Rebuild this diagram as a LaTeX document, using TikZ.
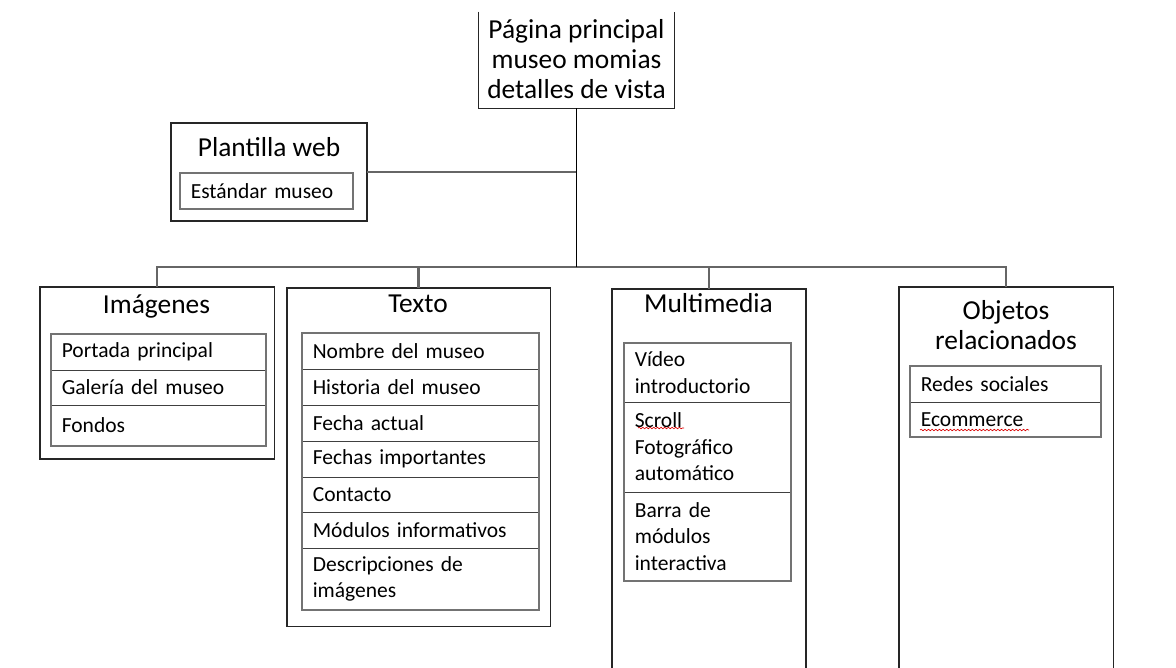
\documentclass[tikz,border=0pt]{standalone}
\usepackage{fontspec}
\setmainfont{Carlito}
\usetikzlibrary{positioning,decorations.pathmorphing}
\tikzset{outline/.style={draw=black!85,line width=0.8pt},
	box/.style={outline,inner sep=0pt,outer sep=0pt,anchor=north west},
	head/.style={font=\fontsize{19.5pt}{21.6pt}\selectfont,align=center,inner sep=0pt},
	item/.style={draw=black!75,line width=0.6pt,inner xsep=0.27cm,inner ysep=0pt,outer sep=0pt,
		align=left,text width=#1,font=\fontsize{15.3pt}{18.8pt}\selectfont},
	frame/.style={draw=black!55,line width=1.3pt},
	link/.style={draw=black!60,line width=1.5pt},
	trunk/.style={draw=black,line width=1.4pt},
	wavy/.style={draw=red!85!black,line width=0.45pt,decorate,
		decoration={snake,amplitude=0.55pt,segment length=2.6pt}},
}
\begin{document}
\begin{tikzpicture}[x=0.025cm,y=-0.025cm]
	\useasboundingbox (0,0) rectangle (1176,668);
	\clip (0,0) rectangle (1176,668);
	
	% main page
	\node[minimum width=4.875cm,minimum height=2.4cm,inner sep=0pt] (home) at (576.5,60) {};
	\draw[outline] (home.north west) -- (home.south west) -- (home.south east) -- (home.north east);
	\node[head,below=0.18cm of home.north] (homet) {Página principal\\museo momias\\detalles de vista};
	
	% template
	\node[box,minimum width=4.9cm,minimum height=2.45cm] (tpl) at (171,123) {};
	\node[head,anchor=base] (tplh) at (269,157) {Plantilla web};
	\node[item=3.785cm,anchor=north west,minimum height=0.9cm] (tpl1) at (180,173) {Estándar museo};
	\draw[frame] (tpl1.north west) rectangle (tpl1.south east);
	
	% columns
	\node[box,minimum width=5.85cm,minimum height=4.3cm] (img) at (40,287) {};
	\node[box,minimum width=6.575cm,minimum height=8.45cm] (txt) at (287,288) {};
	\node[box,minimum width=4.85cm,minimum height=10cm] (mm) at (612,289) {};
	\node[box,minimum width=5.35cm,minimum height=10cm] (obj) at (899,287) {};
	
	\node[head,anchor=base] (imgh) at (156.5,314) {Imágenes};
	\node[head,anchor=base] (txth) at (418,313) {Texto};
	\node[head,anchor=base] (mmh) at (708.5,313) {Multimedia};
	\node[head,below=0.33cm of obj.north] (objh) {Objetos\\relacionados};
	
	% images
	\node[item=4.835cm,anchor=north west,minimum height=0.9cm] (img1) at (51,334) {Portada principal};
	\node[item=4.835cm,minimum height=0.875cm,below=0pt of img1] (img2) {Galería del museo};
	\node[item=4.835cm,minimum height=1.025cm,below=0pt of img2] (img3) {Fondos};
	\draw[frame] (img1.north west) rectangle (img3.south east);
	
	% text
	\node[item=5.385cm,anchor=north west,minimum height=0.9cm] (txt1) at (302,333) {Nombre del museo};
	\node[item=5.385cm,minimum height=0.9cm,below=0pt of txt1] (txt2) {Historia del museo};
	\node[item=5.385cm,minimum height=0.9cm,below=0pt of txt2] (txt3) {Fecha actual};
	\node[item=5.385cm,minimum height=0.9cm,below=0pt of txt3] (txt4) {Fechas importantes};
	\node[item=5.385cm,minimum height=0.875cm,below=0pt of txt4] (txt5) {Contacto};
	\node[item=5.385cm,minimum height=0.9cm,below=0pt of txt5] (txt6) {Módulos informativos};
	\node[item=5.385cm,minimum height=1.55cm,below=0pt of txt6] (txt7) {Descripciones de\\imágenes};
	\draw[frame] (txt1.north west) rectangle (txt7.south east);
	
	% multimedia
	\node[item=3.635cm,anchor=north west,minimum height=1.475cm] (mm1) at (624,343) {Vídeo\\introductorio};
	\node[item=3.635cm,minimum height=2.25cm,below=0pt of mm1] (mm2) {Scroll\\Fotográfico\\automático};
	\node[item=3.635cm,minimum height=2.225cm,below=0pt of mm2] (mm3) {Barra de\\módulos\\interactiva};
	\draw[frame] (mm1.north west) rectangle (mm3.south east);
	
	% related objects
	\node[item=4.235cm,anchor=north west,minimum height=0.9cm] (obj1) at (910,366) {Redes sociales};
	\node[item=4.235cm,minimum height=0.875cm,below=0pt of obj1] (obj2) {Ecommerce};
	\draw[frame] (obj1.north west) rectangle (obj2.south east);
	
	% spelling marks
	\draw[wavy] ([shift={(14,26)}]mm2.north west) -- ++(46,0);
	\draw[wavy] ([shift={(10,28)}]obj2.north west) -- ++(109,0);
	
	% connectors
	\coordinate (hub) at (576.5,267);
	\draw[link] (tpl.east) -- (tpl.east -| home.south);
	\draw[link] (img.north) |- (hub) -| (obj.north);
	\draw[link] (txt.north) -- (txt.north |- hub);
	\draw[link] (mm.north) -- (mm.north |- hub);
	\draw[trunk] (home.south) -- (hub);
\end{tikzpicture}
\end{document}
